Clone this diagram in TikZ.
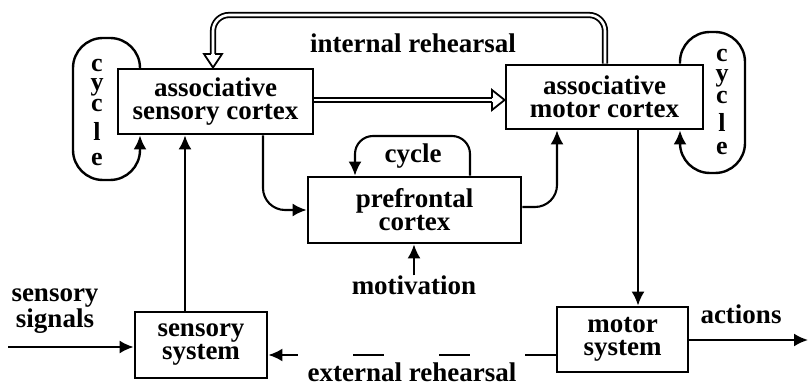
\documentclass[tikz,border=0pt]{standalone}
\usepackage{fontspec}
\setmainfont{Liberation Serif}
\usetikzlibrary{arrows.meta,calc}
\tikzset{
  lbl/.style={font=\fontsize{27}{23}\selectfont\bfseries, align=center, inner sep=0pt},
  vlet/.style={font=\fontsize{26}{22}\selectfont\bfseries, inner sep=0pt, anchor=base},
  box/.style={draw, line width=2.8pt, lbl},
  conn/.style={line width=2.1pt, -{Latex[length=14pt,width=13pt]}},
  cyc/.style={line width=2.4pt, rounded corners=30pt, -{Latex[length=14pt,width=13pt]}},
  dbl/.style={line width=1.8pt, double, double distance=2.6pt, rounded corners=16pt},
  openhead/.style={line width=1.8pt, line join=miter}
}
\begin{document}
\begin{tikzpicture}[x=1pt,y=-1pt]
\useasboundingbox (0,0) rectangle (809,387);
% boxes
\node[box, minimum width=195pt, minimum height=65pt] (asc) at (215.5,101.5) {associative\\sensory cortex};
\node[box, minimum width=197pt, minimum height=64pt] (amc) at (604.5,97) {associative\\motor cortex};
\node[box, minimum width=213pt, minimum height=66pt] (pfc) at (414.5,210) {prefrontal\\cortex};
\node[box, minimum width=132pt, minimum height=66pt] (ss) at (201,345) {sensory\\system};
\node[box, minimum width=131pt, minimum height=65pt] (ms) at (622.5,339.5) {motor\\system};
% labels
\node[lbl] (intl) at (413,43) {internal rehearsal};
\node[lbl] (extl) at (412,372) {external rehearsal};
\node[lbl] (mot) at (414,285) {motivation};
\node[lbl] (pcyc) at (413,156) {cycle};
\node[lbl] (sig) at (55,311) {sensory\\signals};
\node[lbl] (act) at (741,314) {actions};
% vertical "cycle" letters
\node[vlet] (l1) at (97,72) {c};
\node[vlet] (l2) at (97,91) {y};
\node[vlet] (l3) at (97,112) {c};
\node[vlet] (l4) at (97,141) {l};
\node[vlet] (l5) at (97,166) {e};
\node[vlet] (r1) at (722,62) {c};
\node[vlet] (r2) at (722,82) {y};
\node[vlet] (r3) at (722,104) {c};
\node[vlet] (r4) at (722,132) {l};
\node[vlet] (r5) at (722,155) {e};
\coordinate (sigin) at (8,347);
\coordinate (actout) at (808,340);
% cycles
\draw[cyc] (140,0 |- asc.north) -- (140,38) -- (73,38) -- (73,180) -- (140,180) -- (140,0 |- asc.south);
\draw[cyc] (680,0 |- amc.north) -- (680,32) -- (745,32) -- (745,173) -- (680,173) -- (680,0 |- amc.south);
\draw[conn, rounded corners=18pt] (470,0 |- pfc.north) -- (470,136) -- (355,136) -- (355,0 |- pfc.north);
% internal rehearsal (double)
\draw[dbl] (605,0 |- amc.north) -- (605,15) -- (213,15) -- (213,54);
\draw[openhead] (210.8,54) -- (204,54) -- (213,0 |- asc.north) -- (222,54) -- (215.2,54);
% sensory cortex -> motor cortex (double)
\draw[dbl] (asc.east |- 0,100) -- (492,100);
\draw[openhead] (492,97.8) -- (492,90) -- (amc.west |- 0,100) -- (492,110) -- (492,102.2);
% other connectors
\draw[conn, rounded corners=22pt] (263,0 |- asc.south) |- (pfc.west);
\draw[conn, rounded corners=22pt] (pfc.east |- 0,207) -| (557,0 |- amc.south);
\draw[conn] (mot.north) -- (mot.north |- pfc.south);
\draw[conn] (185,0 |- ss.north) -- (185,0 |- asc.south);
\draw[conn] (638,0 |- amc.south) -- (638,0 |- ms.north);
\draw[conn] (sigin) -- (ss.west |- sigin);
\draw[conn] (ms.east |- actout) -- (actout);
\draw[conn, dash pattern=on 31pt off 55pt] (ms.west |- 0,355) -- (ss.east |- 0,355);
\end{tikzpicture}
\end{document}
